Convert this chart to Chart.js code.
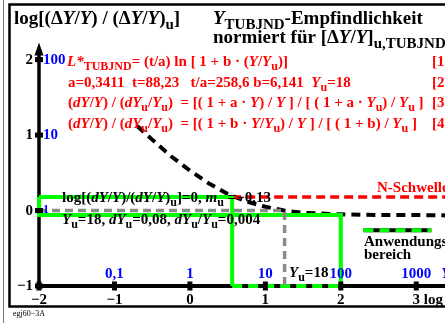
<!DOCTYPE html>
<html><head><meta charset="utf-8">
<script src="https://cdn.jsdelivr.net/npm/chart.js@4/dist/chart.umd.min.js"></script>
<style>
html,body{margin:0;padding:0;background:#fff;overflow:hidden;width:445px;height:323px}
canvas{display:block}
</style>
</head><body>
<canvas id="c" width="480" height="323"></canvas>
<script>
// log axis ticks and their labels
const xTicks = [-2, -1, 0, 1, 2, 3];
const xTickLabels = ["−2", "−1", "0", "1", "2", "3 log"];
const yTicks = [2, 1, 0, -1];
const yTickLabels = ["2", "1", "0", "−1"];
// linear values shown in blue next to the log ticks
const yValueTicks = [2, 1, 0];
const yValueLabels = ["100", "10", "1"];
const xValueTicks = [-1, 0, 1, 2, 3];
const xValueLabels = ["0,1", "1", "10", "100", "1000"];

// normalised sensitivity curve, log(Y) vs log[(dY/Y)/(dY/Y)u]
const curveX = [-0.7, -0.5, -0.25, 0, 0.25, 0.5, 0.75, 1.0, 1.25, 1.5, 2.0, 2.5, 3.0, 3.5];
const curveY = [1.12, 0.94, 0.72, 0.53, 0.36, 0.22, 0.12, 0.05, 0.0, -0.03, -0.05, -0.06, -0.06, -0.065];

// threshold and application range
const thresholdY = 0.18;     // N-Schwelle
const unitLevelY = -0.06;    // lower range border
const rangeStartX = 0.56;
const rangeEndX = 2.0;
const logYu = 1.255;         // log(18)
const xMin = -2, xMax = 3.5, yMin = -1, yMax = 2.3;

const pts = (xs, ys) => xs.map((x, i) => ({x, y: ys[i]}));

const SERIF = '"Liberation Serif","DejaVu Serif",serif';

// draw text made of styled runs: '' normal, 'i' italic, 's' subscript, 'si' italic subscript
function rich(ctx, x, y, runs, size, color) {
  ctx.save();
  ctx.fillStyle = color;
  ctx.textBaseline = 'alphabetic';
  ctx.textAlign = 'left';
  let cx = x;
  for (const [t, f] of runs) {
    const sub = f.includes('s');
    const it = f.includes('i');
    const sz = sub ? Math.round(size * 0.78) : size;
    ctx.font = (it ? 'italic ' : '') + 'bold ' + sz + 'px ' + SERIF;
    ctx.fillText(t, cx, y + (sub ? size * 0.28 : 0));
    cx += ctx.measureText(t).width;
  }
  ctx.restore();
  return cx;
}

const decor = {
  id: 'decor',
  beforeDraw(chart) {
    const ctx = chart.ctx;
    ctx.save();
    ctx.fillStyle = '#fff';
    ctx.fillRect(0, 0, chart.width, chart.height);
    ctx.strokeStyle = '#777';
    ctx.lineWidth = 1;
    ctx.beginPath(); ctx.moveTo(3.5, 0); ctx.lineTo(3.5, 323); ctx.stroke();
    ctx.strokeStyle = '#000';
    ctx.lineWidth = 2.5;
    ctx.strokeRect(9.5, 4.5, 520, 302);
    ctx.restore();
  },
  beforeDatasetsDraw(chart) {
    const ctx = chart.ctx, xs = chart.scales.x, ys = chart.scales.y;
    ctx.save();
    ctx.strokeStyle = '#000';
    ctx.lineWidth = 4;
    ctx.beginPath();
    ctx.moveTo(xs.getPixelForValue(xMin) - 2, ys.getPixelForValue(yMin));
    ctx.lineTo(xs.getPixelForValue(xMax) + 30, ys.getPixelForValue(yMin));
    ctx.stroke();
    ctx.lineWidth = 3.5;
    ctx.beginPath();
    ctx.moveTo(xs.getPixelForValue(xMin), ys.getPixelForValue(yMin));
    ctx.lineTo(xs.getPixelForValue(xMin), ys.getPixelForValue(2.12));
    ctx.stroke();
    // arrow head
    const ax = xs.getPixelForValue(xMin), ay = ys.getPixelForValue(2.2);
    ctx.fillStyle = '#000';
    ctx.beginPath();
    ctx.moveTo(ax, ay - 2); ctx.lineTo(ax - 4.5, ay + 11); ctx.lineTo(ax + 4.5, ay + 11); ctx.closePath();
    ctx.fill();
    ctx.restore();
  },
  afterDatasetsDraw(chart) {
    const ctx = chart.ctx, xs = chart.scales.x, ys = chart.scales.y;
    const X = v => xs.getPixelForValue(v), Y = v => ys.getPixelForValue(v);
    ctx.save();
    ctx.fillStyle = '#000';
    // tick marks
    xTicks.forEach(v => ctx.fillRect(X(v) - 2.5, Y(yMin) - 4.5, 5, 9));
    yTicks.forEach(v => ctx.fillRect(X(xMin) - 4, Y(v) - 2.5, 8, 5));
    // black tick labels
    ctx.font = 'bold 15px ' + SERIF;
    ctx.textBaseline = 'alphabetic';
    xTicks.forEach((v, i) => {
      const t = xTickLabels[i];
      if (t.includes(' ')) {
        ctx.textAlign = 'left';
        ctx.fillText(t, X(v) - ctx.measureText('3').width / 2, Y(yMin) + 18);
      } else {
        ctx.textAlign = 'center';
        ctx.fillText(t, X(v), Y(yMin) + 18);
      }
    });
    ctx.textAlign = 'right';
    yTicks.forEach((v, i) => ctx.fillText(yTickLabels[i], X(xMin) - 6, Y(v) + 4));
    // blue value labels
    ctx.fillStyle = '#0000ff';
    ctx.textAlign = 'left';
    yValueTicks.forEach((v, i) => {
      ctx.font = 'bold ' + (v === 0 ? 12 : 15) + 'px ' + SERIF;
      ctx.fillText(yValueLabels[i], X(xMin) + 4, Y(v) + (v === 0 ? 2 : 4));
    });
    ctx.font = 'bold 15px ' + SERIF;
    ctx.textAlign = 'center';
    xValueTicks.forEach((v, i) => ctx.fillText(xValueLabels[i], X(v), Y(yMin) - 8));
    ctx.font = 'italic bold 15px ' + SERIF;
    ctx.textAlign = 'left';
    ctx.fillText('Y', X(3) + 25, Y(yMin) - 8);

    // titles
    rich(ctx, 14, 24, [["log[(Δ",""],["Y","i"],["/",""],["Y","i"],[") / (Δ",""],["Y","i"],["/",""],["Y","i"],[")",""],["u","s"],["]",""]], 19, '#000');
    rich(ctx, 213, 24, [["Y","i"],["TUBJND","s"],["-Empfindlichkeit",""]], 19, '#000');
    rich(ctx, 213, 43, [["normiert für [Δ",""],["Y","i"],["/",""],["Y","i"],["]",""],["u,TUBJND","s"]], 19, '#000');

    // formulas
    const red = '#ff0000';
    rich(ctx, 67, 66, [["L*","i"],["TUBJND","s"],["= (t/a) ln [ 1 + b · (",""],["Y","i"],["/",""],["Y","i"],["u","s"],[")]",""]], 15, red);
    rich(ctx, 68, 87, [["a=0,3411  t=88,23   t/a=258,6 b=6,141  ",""],["Y","i"],["u","s"],["=18",""]], 15, red);
    rich(ctx, 68, 107, [["(",""],["dY","i"],["/",""],["Y","i"],[") / (",""],["dY","i"],["u","s"],["/",""],["Y","i"],["u","s"],[")  = [( 1 + a · ",""],["Y","i"],[") / ",""],["Y","i"],[" ] / [ ( 1 + a · ",""],["Y","i"],["u","s"],[") / ",""],["Y","i"],["u","s"],[" ]",""]], 15, red);
    rich(ctx, 68, 128, [["(",""],["dY","i"],["/",""],["Y","i"],[") / (",""],["dY","i"],["u","s"],["/",""],["Y","i"],["u","s"],[")  = [( 1 + b · ",""],["Y","i"],["/",""],["Y","i"],["u","s"],[") / ",""],["Y","i"],[" ] / [ ( 1 + b) / ",""],["Y","i"],["u","s"],[" ]",""]], 15, red);
    ['[1', '[2', '[3', '[4'].forEach((t, i) => rich(ctx, 432, [66, 87, 107, 128][i], [[t, ""]], 15, red));

    // annotations
    rich(ctx, 62, 202, [["log[(",""],["dY","i"],["/",""],["Y","i"],[")/(",""],["dY","i"],["/",""],["Y","i"],[")",""],["u","s"],["]=0, ",""],["m","i"],["u","s"],[" =−0,13",""]], 15, '#000');
    rich(ctx, 62, 224, [["Y","i"],["u","s"],["=18, ",""],["dY","i"],["u","s"],["=0,08, ",""],["dY","i"],["u","s"],["/",""],["Y","i"],["u","s"],["=0,004",""]], 15, '#000');
    rich(ctx, 289, 277, [["Y","i"],["u","s"],["=18",""]], 15, '#000');
    rich(ctx, 377, 192, [["N-Schwelle",""]], 15, red);

    // legend for the application range
    const lx0 = X(2.3), lx1 = X(3.2), ly = Y(-0.26);
    ctx.lineWidth = 4;
    ctx.strokeStyle = '#000';
    ctx.beginPath(); ctx.moveTo(lx0, ly); ctx.lineTo(lx1, ly); ctx.stroke();
    ctx.strokeStyle = '#00ff00';
    ctx.setLineDash([10, 6]);
    ctx.beginPath(); ctx.moveTo(lx0, ly); ctx.lineTo(lx1, ly); ctx.stroke();
    ctx.setLineDash([]);
    rich(ctx, 364, 246, [["Anwendungs",""]], 15, '#000');
    rich(ctx, 364, 259, [["bereich",""]], 15, '#000');

    // footer
    ctx.fillStyle = '#000';
    ctx.font = '8px ' + SERIF;
    ctx.textAlign = 'left';
    ctx.fillText('egj60−3A', 13, 316);
    ctx.restore();
  }
};

const line = (data, color, width, dash) => ({
  data, showLine: true, borderColor: color, borderWidth: width, borderDash: dash || [],
  pointRadius: 0, fill: false, clip: false, tension: 0, borderCapStyle: 'butt'
});

new Chart(document.getElementById('c'), {
  type: 'scatter',
  data: {
    datasets: [
      // gray reference lines at log = 0 and Y = Yu
      line(pts([xMin, logYu, logYu], [0, 0, yMin]), '#8a8a8a', 3.5, [8, 5]),
      // application range frames
      line(pts([xMin, rangeStartX, rangeStartX], [thresholdY, thresholdY, yMin]), '#00ff00', 4),
      line(pts([xMin, xMin, rangeEndX, rangeEndX], [thresholdY, unitLevelY, unitLevelY, yMin]), '#00ff00', 4),
      line(pts([rangeStartX, rangeEndX], [yMin, yMin]), '#00ff00', 4, [10, 6]),
      // threshold
      line(pts([rangeStartX, xMax + 0.4], [thresholdY, thresholdY]), '#ff0000', 3.5, [9, 5]),
      // sensitivity curve
      line(pts(curveX, curveY), '#000', 4, [9, 6])
    ]
  },
  options: {
    responsive: false,
    animation: false,
    devicePixelRatio: 1,
    layout: { padding: { left: 39, right: 26, top: 37, bottom: 37 } },
    plugins: { legend: { display: false }, tooltip: { enabled: false } },
    scales: {
      x: { type: 'linear', min: xMin, max: xMax, display: false },
      y: { type: 'linear', min: yMin, max: yMax, display: false }
    }
  },
  plugins: [decor]
});
</script>
</body></html>
